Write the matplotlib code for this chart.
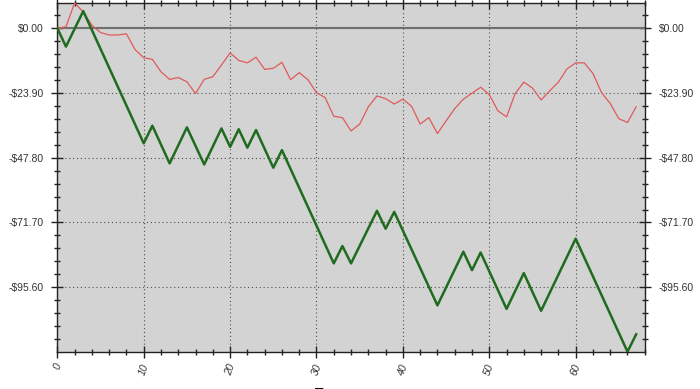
import matplotlib
matplotlib.use("Agg")
import matplotlib.pyplot as plt
import numpy as np
from matplotlib.ticker import MultipleLocator, FixedLocator, FuncFormatter

plt.rcParams['font.family'] = ['Liberation Sans', 'DejaVu Sans']

# red equity curve, one value per trade
red_x = list(range(0, 68))
red_y = [0.0, 0.5, 9.3, 6.0, 1.1, -1.6, -2.5, -2.5, -2.1, -7.9,
         -10.9, -11.5, -16.1, -18.9, -18.2, -19.8, -24.1, -18.9, -17.9, -13.6,
         -9.1, -11.9, -12.8, -10.7, -15.2, -14.8, -12.6, -19.0, -16.4, -19.0,
         -23.8, -25.6, -32.5, -33.0, -37.9, -35.4, -29.0, -25.0, -26.0, -28.0,
         -26.2, -28.8, -35.4, -33.0, -38.9, -34.2, -29.7, -26.2, -24.0, -21.8,
         -24.5, -30.5, -32.7, -24.1, -19.9, -22.1, -26.5, -23.1, -19.9, -15.0,
         -12.8, -12.8, -16.7, -23.8, -27.8, -33.4, -34.8, -29.0]

# green curve, turning points
green_x = [0, 1, 3, 10, 11, 13, 15, 17, 19, 20, 21, 22, 23, 25, 26, 32, 33, 34,
           37, 38, 39, 44, 47, 48, 49, 52, 54, 56, 60, 66, 67]
green_y = [0.0, -6.8, 6.3, -42.5, -36.0, -49.9, -36.6, -50.3, -37.0, -43.8,
           -37.3, -44.1, -37.6, -51.5, -45.0, -86.8, -80.4, -86.8, -67.4, -74.0,
           -67.8, -102.3, -82.5, -89.3, -82.8, -103.6, -90.4, -104.3, -77.7,
           -119.4, -113.0]

y_major = [0.0, -23.9, -47.8, -71.7, -95.6]
x_major = [0, 10, 20, 30, 40, 50, 60]

fig = plt.figure(figsize=(7, 3.89), dpi=100)
ax = fig.add_axes([0.0819, 0.0959, 0.8392, 0.8964])
ax.set_facecolor('#d3d3d3')

ax.axhline(0, color='#707070', linewidth=1.5, zorder=2)
ax.plot(red_x, red_y, color='#e05a5a', linewidth=0.9, zorder=3)
ax.plot(green_x, green_y, color='#1f6b1f', linewidth=1.8, zorder=4)

ax.set_xlim(0, 68)
ax.set_ylim(-119.4, 9.3)

ax.xaxis.set_major_locator(FixedLocator(x_major))
ax.xaxis.set_minor_locator(MultipleLocator(2))
ax.yaxis.set_major_locator(FixedLocator(y_major))
ax.yaxis.set_minor_locator(MultipleLocator(4.78))

def money(v, pos):
    if abs(v) < 1e-9:
        return '$0.00'
    return '-$%.2f' % abs(v)

ax.yaxis.set_major_formatter(FuncFormatter(money))

ax.grid(True, which='major', color='#505050', linestyle=(0, (1, 2.5)), linewidth=0.8)

ax.tick_params(axis='both', which='both', direction='inout', colors='#222222',
               labelcolor='#333333', labelsize=7.5, top=True, right=True,
               labelright=True, labeltop=False)
ax.tick_params(axis='both', which='major', length=8, width=1)
ax.tick_params(axis='both', which='minor', length=5, width=1)
ax.tick_params(axis='y', which='major', pad=6)

for lab in ax.get_xticklabels():
    lab.set_rotation(70)
    lab.set_style('italic')
    lab.set_ha('center')

for s in ax.spines.values():
    s.set_color('#222222')
    s.set_linewidth(1.0)

fig.text(0.456, -0.03, 'T', fontsize=10, fontweight='bold', ha='center', va='bottom')

fig.savefig('out.png', dpi=100)
